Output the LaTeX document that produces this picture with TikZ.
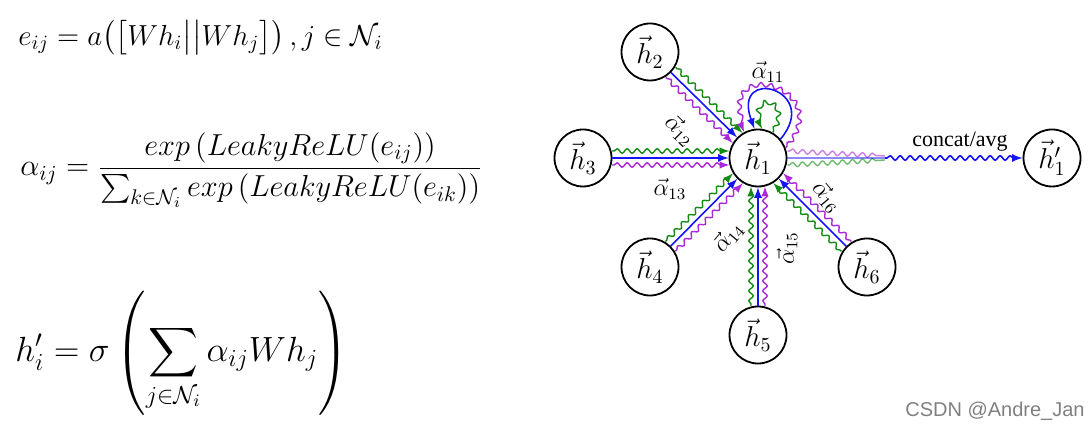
\RequirePackage{fix-cm}
\documentclass[tikz,border=0pt]{standalone}
\usepackage{amsmath}
\usepackage{fontspec}
\newfontfamily\serifT{Liberation Serif}
\newfontfamily\sansA{Liberation Sans}
\usetikzlibrary{calc,decorations.pathmorphing}
\definecolor{attgreen}{RGB}{20,140,20}
\definecolor{attblue}{RGB}{20,20,245}
\definecolor{attpurple}{RGB}{170,40,215}

\begin{document}
\begin{tikzpicture}[
x=0.5pt, y=0.5pt, >=latex,
vtx/.style={circle, draw, line width=0.9pt, minimum size=28.5pt, inner sep=0pt, font=\Large},
lbl/.style={inner sep=0pt, font=\large},
eqn/.style={anchor=west, inner sep=0pt, font=\fontsize{14.5}{17}\selectfont},
wavy/.style={decorate, decoration={snake, amplitude=1.1pt, segment length=5pt, pre length=1pt, post length=2.5pt}},
gline/.style={attgreen, line width=0.7pt, wavy, ->},
pline/.style={attpurple, line width=0.7pt, wavy, ->},
bline/.style={attblue, line width=0.8pt, ->}
]
\useasboundingbox (0,0) rectangle (1090,431);

\node[eqn] (f1) at (18,393) {$e_{ij} = a\big(\big[Wh_i\big|\big|Wh_j\big]\big)\,,j\in\mathcal{N}_i$};
\node[eqn, font=\fontsize{15.2}{18}\selectfont] (f2) at (20,261) {$\displaystyle\alpha_{ij} = \frac{exp\left(LeakyReLU(e_{ij})\right)}{\sum_{k\in\mathcal{N}_i} exp\left(LeakyReLU(e_{ik})\right)}$};
\node[eqn, font=\fontsize{17.5}{21}\selectfont] (f3) at (15,78) {$\displaystyle h'_i = \sigma\left(\sum_{j\in\mathcal{N}_i}\alpha_{ij}Wh_j\right)$};

\node[vtx] (h1) at (758,273) {$\vec{h}_1$};
\node[vtx] (h2) at (650,379) {$\vec{h}_2$};
\node[vtx] (h3) at (583,273) {$\vec{h}_3$};
\node[vtx] (h4) at (650,164) {$\vec{h}_4$};
\node[vtx] (h5) at (758,96) {$\vec{h}_5$};
\node[vtx] (h6) at (867,164) {$\vec{h}_6$};
\node[vtx] (h1p) at (1052,273) {$\vec{h}'_1$};

\draw[gline] ($(h2)!14.5pt!(h1)!3.5pt!90:(h1)$) -- ($(h1)!14.3pt!(h2)!3.5pt!-90:(h2)$);
\draw[bline] (h2) -- (h1);
\draw[pline] ($(h2)!14.5pt!(h1)!3.5pt!-90:(h1)$) -- ($(h1)!14.3pt!(h2)!3.5pt!90:(h2)$);
\draw[gline] ($(h3)!14.5pt!(h1)!3.5pt!90:(h1)$) -- ($(h1)!14.3pt!(h3)!3.5pt!-90:(h3)$);
\draw[bline] (h3) -- (h1);
\draw[pline] ($(h3)!14.5pt!(h1)!3.5pt!-90:(h1)$) -- ($(h1)!14.3pt!(h3)!3.5pt!90:(h3)$);
\draw[gline] ($(h4)!14.5pt!(h1)!3.5pt!90:(h1)$) -- ($(h1)!14.3pt!(h4)!3.5pt!-90:(h4)$);
\draw[bline] (h4) -- (h1);
\draw[pline] ($(h4)!14.5pt!(h1)!3.5pt!-90:(h1)$) -- ($(h1)!14.3pt!(h4)!3.5pt!90:(h4)$);
\draw[gline] ($(h5)!14.5pt!(h1)!3.5pt!90:(h1)$) -- ($(h1)!14.3pt!(h5)!3.5pt!-90:(h5)$);
\draw[bline] (h5) -- (h1);
\draw[pline] ($(h5)!14.5pt!(h1)!3.5pt!-90:(h1)$) -- ($(h1)!14.3pt!(h5)!3.5pt!90:(h5)$);
\draw[gline] ($(h6)!14.5pt!(h1)!3.5pt!90:(h1)$) -- ($(h1)!14.3pt!(h6)!3.5pt!-90:(h6)$);
\draw[bline] (h6) -- (h1);
\draw[pline] ($(h6)!14.5pt!(h1)!3.5pt!-90:(h1)$) -- ($(h1)!14.3pt!(h6)!3.5pt!90:(h6)$);

\draw[pline] (h1.20) .. controls +(50:80) and +(115:85) .. (h1.118);
\draw[bline] (h1.40) .. controls +(50:65) and +(110:68) .. (h1.97);
\draw[gline] (h1.60) .. controls +(60:40) and +(120:40) .. (h1.82);

\coordinate (m) at (885,273);
\draw[pline, -, opacity=.6] ([yshift=3.5pt]h1.east) -- ([yshift=1pt]m);
\draw[gline, -, opacity=.6] ([yshift=-3.5pt]h1.east) -- ([yshift=-1pt]m);
\draw[attblue, line width=0.8pt, opacity=.5] (h1) -- (m);
\draw[bline, wavy] (m) -- (h1p);

\node[lbl] (a11) at (768,359) {$\vec{\alpha}_{11}$};
\node[lbl, rotate=-45] (a12) at (680,301) {$\vec{\alpha}_{12}$};
\node[lbl] (a13) at (670,242) {$\vec{\alpha}_{13}$};
\node[lbl, rotate=50] (a14) at (728,194) {$\vec{\alpha}_{14}$};
\node[lbl, rotate=90] (a15) at (787,183) {$\vec{\alpha}_{15}$};
\node[lbl, rotate=-50] (a16) at (827,234) {$\vec{\alpha}_{16}$};
\node[lbl, font=\serifT\fontsize{11}{13}\selectfont] (cat) at (960,289) {concat/avg};

\node[font=\sansA\fontsize{10}{12}\selectfont, text=gray] (wm) at (995,20) {CSDN @Andre\_Jan};
\end{tikzpicture}
\end{document}
